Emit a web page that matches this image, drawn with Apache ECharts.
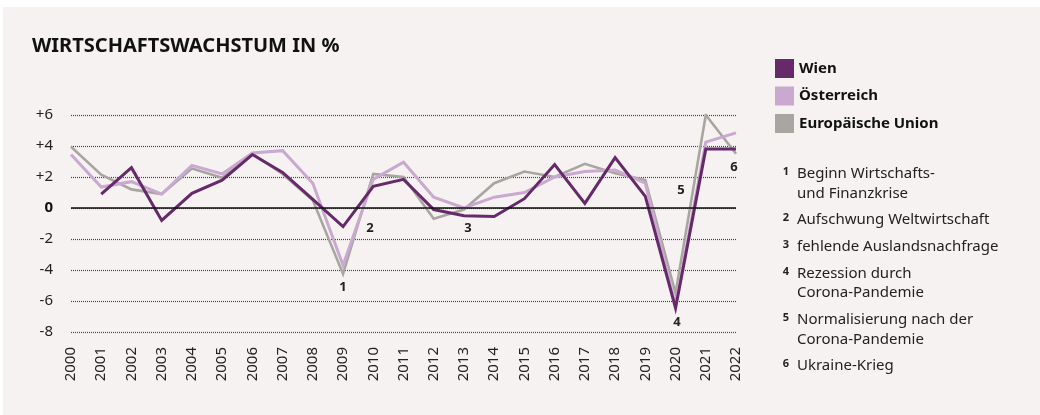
<!DOCTYPE html>
<html>
<head>
<meta charset="utf-8">
<script src="https://cdn.jsdelivr.net/npm/echarts@6/dist/echarts.min.js"></script>
<style>
  html, body { margin: 0; padding: 0; background: #ffffff; }
  #chart { width: 1040px; height: 415px; }
</style>
</head>
<body>
<div id="chart"></div>
<script>
// Jahre (x-Achse)
const years = ['2000', '2001', '2002', '2003', '2004', '2005', '2006', '2007', '2008', '2009', '2010',
  '2011', '2012', '2013', '2014', '2015', '2016', '2017', '2018', '2019', '2020', '2021', '2022']

// Wachstum in %
const wien = [null, 0.9, 2.6, -0.8, 0.95, 1.8, 3.45, 2.3, 0.55, -1.2, 1.4, 1.85,
  -0.1, -0.5, -0.55, 0.6, 2.8, 0.3, 3.25, 0.75, -6.45, 3.8, 3.8]
const oesterreich = [3.45, 1.35, 1.7, 0.9, 2.75, 2.2, 3.55, 3.7, 1.6, -3.7, 1.85, 2.95,
  0.7, 0.0, 0.7, 1.0, 2.0, 2.35, 2.45, 1.6, -6.3, 4.25, 4.85]
const eu = [3.95, 2.15, 1.2, 0.9, 2.55, 1.95, 3.5, 2.2, 0.5, -4.25, 2.2, 2.0,
  -0.7, -0.1, 1.6, 2.35, 2.0, 2.85, 2.25, 1.8, -5.5, 6.0, 3.5]

// y-Achse
const yTicks = [-8, -6, -4, -2, 0, 2, 4, 6]

// Fußnoten
const notes = [
  ['1', 'Beginn Wirtschafts-', 'und Finanzkrise'],
  ['2', 'Aufschwung Weltwirtschaft'],
  ['3', 'fehlende Auslandsnachfrage'],
  ['4', 'Rezession durch', 'Corona-Pandemie'],
  ['5', 'Normalisierung nach der', 'Corona-Pandemie'],
  ['6', 'Ukraine-Krieg']
]

const font = '"Noto Sans", "Open Sans", sans-serif'
const colors = { wien: '#66296a', oe: '#c9a9cf', eu: '#a9a6a1' }

// Markierungen im Diagramm (Textposition)
const marks = [
  ['1', 343, 287], ['2', 370, 228], ['3', 468, 228],
  ['4', 677, 322], ['5', 681, 190], ['6', 734, 167]
]

const graphics = [
  { type: 'rect', z: -10, shape: { x: 3, y: 7, width: 1037, height: 408 }, style: { fill: '#f6f2f1' } },
  { type: 'text', x: 32, y: 46, style: { text: 'WIRTSCHAFTSWACHSTUM IN %', font: 'bold 20px ' + font, fill: '#111', verticalAlign: 'middle' } }
]

marks.forEach(m => {
  graphics.push({ type: 'text', x: m[1], y: m[2], z: 10,
    style: { text: m[0], font: 'bold 13px ' + font, fill: '#222', align: 'center', verticalAlign: 'middle' } })
})

let ny = 174
notes.forEach(n => {
  graphics.push({ type: 'text', x: 789, y: ny - 2, style: { text: n[0], font: 'bold 11px ' + font, fill: '#222', align: 'right', verticalAlign: 'middle' } })
  for (let i = 1; i < n.length; i++) {
    graphics.push({ type: 'text', x: 797, y: ny, style: { text: n[i], font: '15px ' + font, fill: '#222', verticalAlign: 'middle' } })
    ny += 19.5
  }
  ny += 7.2
})

const lineSeries = (name, data, color, width) => ({
  name: name,
  type: 'line',
  data: data,
  symbol: 'none',
  color: color,
  lineStyle: { color: color, width: width, join: 'miter', miterLimit: 10 }
})

const chart = echarts.init(document.getElementById('chart'))
chart.setOption({
  animation: false,
  textStyle: { fontFamily: font },
  grid: { left: 71, right: 304, top: 115, bottom: 83 },
  legend: {
    data: ['Wien', 'Österreich', 'Europäische Union'],
    orient: 'vertical',
    left: 770,
    top: 54,
    icon: 'rect',
    itemWidth: 19,
    itemHeight: 19,
    itemGap: 8.5,
    textStyle: { fontSize: 15, fontWeight: 'bold', color: '#111', fontFamily: font }
  },
  xAxis: {
    type: 'category',
    data: years,
    boundaryGap: false,
    axisLine: { show: false },
    axisTick: { show: false },
    axisLabel: { rotate: 90, margin: 15, fontSize: 15, color: '#222', interval: 0 }
  },
  yAxis: {
    type: 'value',
    min: -8,
    max: 6,
    interval: 2,
    axisLine: { show: false },
    axisTick: { show: false },
    axisLabel: {
      margin: 18,
      fontSize: 15,
      color: '#222',
      formatter: v => v === 0 ? '{z|0}' : (v > 0 ? '+' + v : String(v)),
      rich: { z: { fontSize: 15, fontWeight: 'bold', color: '#111' } }
    },
    splitLine: { lineStyle: { color: '#444', type: [1, 1], width: 1.2 } }
  },
  series: [
    Object.assign(lineSeries('Europäische Union', eu, colors.eu, 2.6), {
      markLine: {
        silent: true,
        symbol: 'none',
        label: { show: false },
        lineStyle: { color: '#111', type: 'solid', width: 1.5 },
        data: [{ yAxis: 0 }]
      }
    }),
    lineSeries('Österreich', oesterreich, colors.oe, 3),
    lineSeries('Wien', wien, colors.wien, 3)
  ],
  graphic: graphics
})
</script>
</body>
</html>
